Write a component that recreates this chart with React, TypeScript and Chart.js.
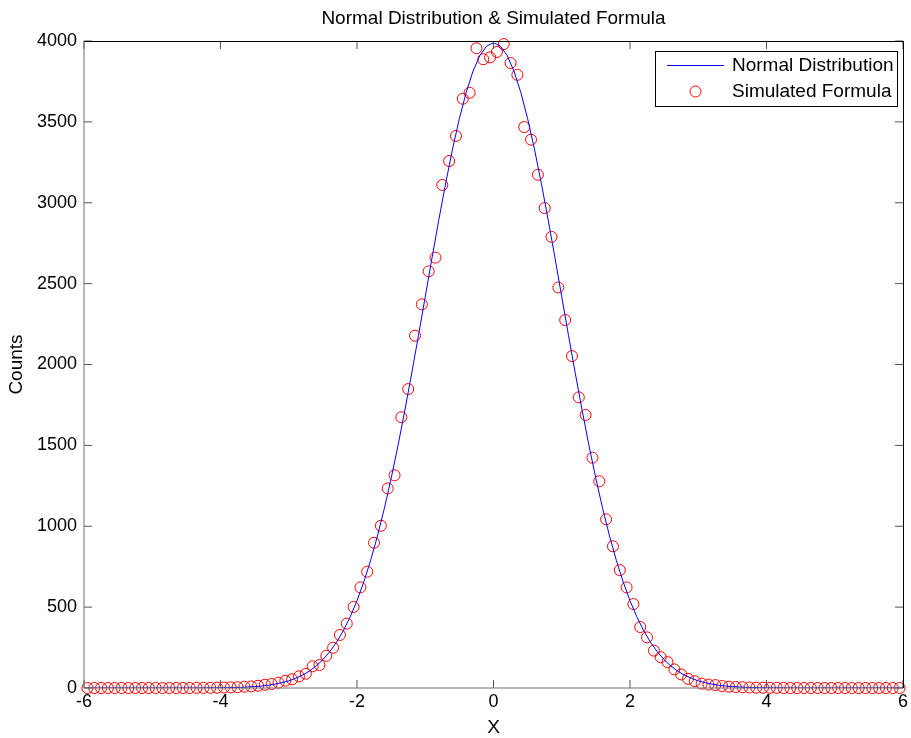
import React, { useEffect, useRef } from "react";
import { Chart, registerables } from "chart.js";

Chart.register(...registerables);

const TITLE = "Normal Distribution & Simulated Formula";
const X_LABEL = "X";
const Y_LABEL = "Counts";
const LINE_LABEL = "Normal Distribution";
const SIM_LABEL = "Simulated Formula";

const X_MIN = -6;
const X_MAX = 6;
const X_STEP = 2;
const Y_MIN = 0;
const Y_MAX = 4000;
const Y_STEP = 500;

// Normal curve sampled at x = -6.0, -5.9, ..., 6.0
const curveStart = -6;
const curveStep = 0.1;
const normalCounts = [
  0, 0, 0, 0, 0, 0, 0, 0, 0, 0, 0, 0, 0, 0, 0, 0, 0,
  0, 1, 1, 1, 2, 3, 4, 6, 9, 12, 17, 24, 33, 44, 60, 79, 104, 136, 175, 224,
  283, 355, 440, 540, 656, 789, 940, 1109, 1295, 1497, 1714, 1942, 2178, 2419,
  2661, 2897, 3122, 3332, 3520, 3682, 3814, 3910, 3969,
  3989,
  3969, 3910, 3814, 3682, 3520, 3332, 3122, 2897, 2661, 2419,
  2178, 1942, 1714, 1497, 1295, 1109, 940, 789, 656, 540,
  440, 355, 283, 224, 175, 136, 104, 79, 60, 44,
  33, 24, 17, 12, 9, 6, 4, 3, 2, 1, 1, 1, 0,
  0, 0, 0, 0, 0, 0, 0, 0, 0, 0, 0, 0, 0, 0, 0, 0, 0,
];

// Simulated histogram counts at bin centres -5.95, -5.85, ..., 5.95
const binStart = -5.95;
const binStep = 0.1;
const simCounts = [
  0, 0, 0, 0, 0, 0, 0, 0, 0, 0, 0, 0, 0, 0, 0, 0,
  1, 1, 1, 2, 3, 4, 5, 8, 10, 14,
  20, 25, 33, 45, 54, 72, 88, 134, 142, 199,
  249, 328, 398, 501, 622, 719, 898, 1003, 1234, 1315,
  1674, 1848, 2178, 2372, 2576, 2661, 3110, 3258, 3413, 3643,
  3680, 3955, 3887, 3899,
  3932, 3981, 3864, 3791, 3468, 3390, 3173, 2967, 2789, 2476,
  2275, 2052, 1797, 1688, 1424, 1278, 1043, 876, 729, 622,
  519, 377, 313, 231, 190, 160, 115, 84, 57, 42,
  27, 21, 18, 12, 8, 6, 5, 3, 2, 2,
  1, 1,
  0, 0, 0, 0, 0, 0, 0, 0, 0, 0, 0, 0, 0, 0, 0, 0, 0, 0,
];

const FONT = "'Liberation Sans', Arial, Helvetica, sans-serif";
const LINE_COLOR = "#0000ff";
const SIM_COLOR = "#ff0000";

const decorPlugin = {
  id: "matlabDecor",
  afterDraw(chart: any) {
    const ctx = chart.ctx as CanvasRenderingContext2D;
    const a = chart.chartArea;
    const xs = chart.scales.x;
    const ys = chart.scales.y;
    ctx.save();

    // inward ticks on all four sides
    ctx.strokeStyle = "#555";
    ctx.lineWidth = 1;
    const tl = 8;
    ctx.beginPath();
    xs.ticks.forEach((t: any) => {
      const px = xs.getPixelForValue(t.value);
      ctx.moveTo(px, a.bottom);
      ctx.lineTo(px, a.bottom - tl);
      ctx.moveTo(px, a.top);
      ctx.lineTo(px, a.top + tl);
    });
    ys.ticks.forEach((t: any) => {
      const py = ys.getPixelForValue(t.value);
      ctx.moveTo(a.left, py);
      ctx.lineTo(a.left + tl, py);
      ctx.moveTo(a.right, py);
      ctx.lineTo(a.right - tl, py);
    });
    ctx.stroke();

    // axes box
    ctx.strokeStyle = "#000";
    ctx.beginPath();
    ctx.moveTo(a.left, Math.round(a.top) + 0.5);
    ctx.lineTo(a.right, Math.round(a.top) + 0.5);
    ctx.moveTo(Math.round(a.right) + 0.5, a.top);
    ctx.lineTo(Math.round(a.right) + 0.5, a.bottom);
    ctx.stroke();
    ctx.strokeStyle = "#6e6e6e";
    ctx.beginPath();
    ctx.moveTo(a.left, a.top);
    ctx.lineTo(a.left, a.bottom);
    ctx.lineTo(a.right, a.bottom);
    ctx.stroke();

    // title and axis labels
    const cx = (a.left + a.right) / 2;
    const cy = (a.top + a.bottom) / 2;
    ctx.fillStyle = "#000";
    ctx.font = `19px ${FONT}`;
    ctx.textAlign = "center";
    ctx.textBaseline = "middle";
    ctx.fillText(TITLE, cx, 19);
    ctx.fillText(X_LABEL, cx, 728);
    ctx.save();
    ctx.translate(17, cy);
    ctx.rotate(-Math.PI / 2);
    ctx.fillText(Y_LABEL, 0, 0);
    ctx.restore();

    // legend
    const lx = 655.5;
    const ly = 51.5;
    const lw = 242;
    const lh = 55;
    ctx.fillStyle = "#fff";
    ctx.fillRect(lx, ly, lw, lh);
    ctx.strokeStyle = "#000";
    ctx.lineWidth = 1;
    ctx.strokeRect(lx, ly, lw, lh);
    ctx.strokeStyle = LINE_COLOR;
    ctx.beginPath();
    ctx.moveTo(667, 65.5);
    ctx.lineTo(724, 65.5);
    ctx.stroke();
    ctx.strokeStyle = SIM_COLOR;
    ctx.beginPath();
    ctx.arc(695.5, 91.5, 5.5, 0, Math.PI * 2);
    ctx.stroke();
    ctx.fillStyle = "#000";
    ctx.textAlign = "left";
    ctx.textBaseline = "middle";
    ctx.font = `19px ${FONT}`;
    ctx.fillText(LINE_LABEL, 732, 66);
    ctx.fillText(SIM_LABEL, 732, 92);

    ctx.restore();
  },
};

export default function App() {
  const canvasRef = useRef<HTMLCanvasElement | null>(null);

  useEffect(() => {
    const canvas = canvasRef.current;
    if (!canvas) return;

    const linePoints = normalCounts.map((v, i) => ({
      x: curveStart + curveStep * i,
      y: v,
    }));
    const simPoints = simCounts.map((v, i) => ({
      x: binStart + binStep * i,
      y: v,
    }));

    const chart = new Chart(canvas, {
      type: "scatter",
      data: {
        datasets: [
          {
            label: LINE_LABEL,
            data: linePoints,
            showLine: true,
            borderColor: LINE_COLOR,
            backgroundColor: LINE_COLOR,
            borderWidth: 1,
            pointRadius: 0,
            tension: 0,
          },
          {
            label: SIM_LABEL,
            data: simPoints,
            showLine: false,
            borderColor: SIM_COLOR,
            backgroundColor: "rgba(0,0,0,0)",
            borderWidth: 1,
            pointRadius: 5.5,
            pointStyle: "circle",
            clip: false,
          } as any,
        ],
      },
      options: {
        animation: false,
        responsive: false,
        devicePixelRatio: 1,
        layout: { padding: { top: 41, right: 6, bottom: 0, left: 0 } },
        plugins: {
          legend: { display: false },
          title: { display: false },
          tooltip: { enabled: false },
        },
        scales: {
          x: {
            type: "linear",
            min: X_MIN,
            max: X_MAX,
            grid: { display: false, drawTicks: false },
            border: { display: false },
            ticks: {
              stepSize: X_STEP,
              padding: 3,
              color: "#000",
              font: { family: FONT, size: 18 },
              callback: (v: any) => String(v),
            },
            afterFit: (s: any) => {
              s.height = 50;
            },
          },
          y: {
            type: "linear",
            min: Y_MIN,
            max: Y_MAX,
            grid: { display: false, drawTicks: false },
            border: { display: false },
            ticks: {
              stepSize: Y_STEP,
              padding: 7,
              color: "#000",
              font: { family: FONT, size: 18 },
              callback: (v: any) => String(v),
            },
            afterFit: (s: any) => {
              s.width = 84;
            },
          },
        },
      },
      plugins: [decorPlugin],
    });

    return () => chart.destroy();
  }, []);

  return (
    <div
      style={{
        position: "fixed",
        left: 0,
        top: 0,
        width: 911,
        height: 738,
        background: "#fff",
      }}
    >
      <canvas ref={canvasRef} width={911} height={738} />
    </div>
  );
}
